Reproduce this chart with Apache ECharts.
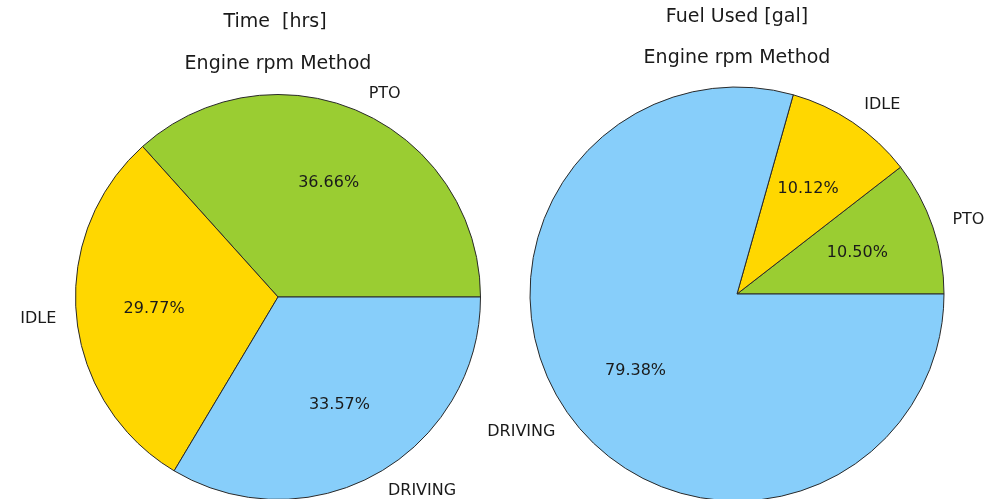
<!DOCTYPE html>
<html>
<head>
<meta charset="utf-8">
<script src="https://cdn.jsdelivr.net/npm/echarts@6/dist/echarts.min.js"></script>
<style>
html,body{margin:0;padding:0;background:#fff;}
#chart{width:1007px;height:499px;}
</style>
</head>
<body>
<div id="chart"></div>
<script>
const categories = ['PTO', 'IDLE', 'DRIVING'];
const timeShare = [36.66, 29.77, 33.57];
const fuelShare = [10.50, 10.12, 79.38];
const sliceColors = ['#9ACD32', '#FFD700', '#87CEFA'];
const titlesLeft = ['Time  [hrs]', 'Engine rpm Method'];
const titlesRight = ['Fuel Used [gal]', 'Engine rpm Method'];

const FONT = 'DejaVu Sans';
const FS = 16;
const TFS = 19;
const TXT = '#1a1a1a';

function mkData(vals) {
  return categories.map((c, i) => ({ name: c, value: vals[i], itemStyle: { color: sliceColors[i] } }));
}

function pieSeries(vals, center, r) {
  return [
    {
      type: 'pie', center: center, radius: [0, r], startAngle: 0, clockwise: false,
      avoidLabelOverlap: false, silent: true, animation: false,
      itemStyle: { borderColor: '#2a2a2a', borderWidth: 1 },
      label: { show: true, position: 'outside', formatter: '{b}', fontFamily: FONT, fontSize: FS, color: TXT, distanceToLabelLine: 0 },
      labelLine: { show: false, length: r * 0.1, length2: 0 },
      data: mkData(vals)
    },
    {
      type: 'pie', center: center, radius: [0, r * 1.2], startAngle: 0, clockwise: false,
      avoidLabelOverlap: false, silent: true, animation: false,
      itemStyle: { color: 'transparent', borderWidth: 0 },
      label: { show: true, position: 'inside', formatter: p => p.value.toFixed(2) + '%', fontFamily: FONT, fontSize: FS, color: TXT },
      labelLine: { show: false },
      data: categories.map((c, i) => ({ name: c, value: vals[i], itemStyle: { color: 'transparent' } }))
    }
  ];
}

function titleItem(text, x, yc) {
  return { text: text, left: x, top: yc - 9, textAlign: 'center', padding: 0,
    textStyle: { fontFamily: FONT, fontSize: TFS, fontWeight: 'normal', color: TXT, lineHeight: 20 } };
}

const chart = echarts.init(document.getElementById('chart'), null, { renderer: 'canvas' });
chart.setOption({
  backgroundColor: '#fff',
  animation: false,
  title: [
    titleItem(titlesLeft[0], 275, 21),
    titleItem(titlesLeft[1], 278, 63),
    titleItem(titlesRight[0], 737, 16),
    titleItem(titlesRight[1], 737, 57)
  ],
  series: [].concat(pieSeries(timeShare, [278, 297], 202.5), pieSeries(fuelShare, [737, 294], 207))
});
</script>
</body>
</html>
